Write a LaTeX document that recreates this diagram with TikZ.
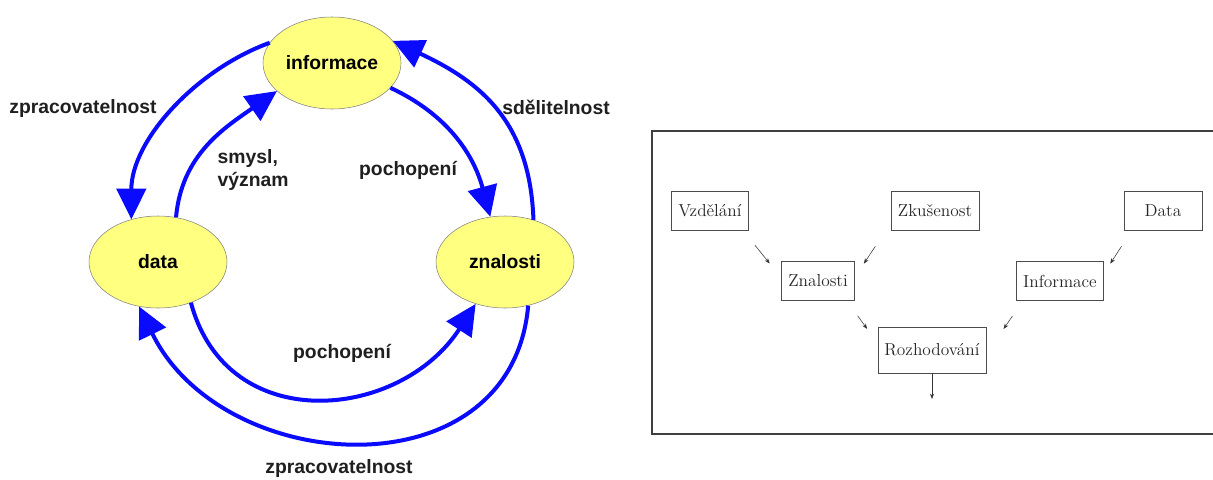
\documentclass[tikz,border=0pt]{standalone}
\usepackage{fontspec}
\usepackage{xcolor}
\usepackage{tikz}
\usetikzlibrary{arrows.meta,shapes.geometric}
\newfontfamily\arialbf{Liberation Sans}[BoldFont={* Bold}]
\definecolor{pale}{RGB}{255,255,128}
\definecolor{arcblue}{RGB}{10,10,255}

\begin{document}
\begin{tikzpicture}[x=0.75pt,y=0.75pt,
    bubble/.style={ellipse,draw=black!50,thin,fill=pale,inner sep=0pt,
      minimum width=103.5pt,minimum height=69pt,
      font=\arialbf\bfseries\fontsize{14.5}{17}\selectfont},
    lbl/.style={font=\arialbf\bfseries\fontsize{14.5}{17}\selectfont,text=black!88},
    flow/.style={draw=arcblue,line width=3pt,
      -{Triangle[length=23pt,width=22pt]}},
    box/.style={draw=black!70,thin,inner xsep=5pt,minimum height=29pt,
      font=\fontsize{13}{15}\selectfont,text=black!85},
    small/.style={-{Stealth[length=4pt,width=3pt]},black!80,thin}]
  \clip (0,0) rectangle (1213,-479);
  \fill[white] (0,0) rectangle (1213,-479);

  % left: cycle
  \node[bubble] (inf) at (332,-63) {informace};
  \node[bubble] (dat) at (158,-262) {data};
  \node[bubble] (zna) at (505,-262) {znalosti};

  \draw[flow] (inf.162) to[out=200,in=90,looseness=0.9] (dat.122);
  \draw[flow] (zna.56) to[out=92,in=-25,looseness=1.1] (inf.20);
  \draw[flow] (dat.68) to[out=85,in=215] (inf.207);
  \draw[flow] (inf.337) to[out=-25,in=105] (zna.108);
  \draw[flow] (dat.309) to[out=-75,in=237,looseness=1.25] (zna.235);
  \draw[flow] (zna.298) to[out=-95,in=296,looseness=1.25] (dat.247);

  \node[lbl] (zpr1) at (83,-108) {zpracovatelnost};
  \node[lbl] (sde) at (556,-107) {sdělitelnost};
  \node[lbl,align=left,anchor=west] (smy) at (213,-170) {smysl,\\význam};
  \node[lbl] (poc1) at (408,-170) {pochopení};
  \node[lbl] (poc2) at (342,-353) {pochopení};
  \node[lbl] (zpr2) at (339,-468) {zpracovatelnost};

  % right: decision scheme
  \draw[black!75,line width=1.2pt] (652,-131) rectangle (1230,-434);
  \node[box] (vzd) at (710,-211) {Vzdělání};
  \node[box] (zku) at (935,-211) {Zkušenost};
  \node[box,minimum width=58.5pt] (dta) at (1163,-211) {Data};
  \node[box] (zn) at (818,-281) {Znalosti};
  \node[box] (in) at (1060,-281) {Informace};
  \node[box,minimum height=34.5pt] (roz) at (932,-350) {Rozhodování};
  \coordinate (out) at (932,-399);

  \draw[small,shorten <=14pt,shorten >=-2pt] ([xshift=-4]vzd.south east) -- ([xshift=-10]zn.north west);
  \draw[small,shorten <=14pt,shorten >=-2pt] ([xshift=-4]zku.south west) -- ([xshift=8]zn.north east);
  \draw[small,shorten <=14pt,shorten >=-2pt] ([xshift=6]dta.south west) -- ([xshift=6]in.north east);
  \draw[small,shorten <=14pt,shorten >=-2pt] ([xshift=-6]zn.south east) -- ([xshift=-9]roz.north west);
  \draw[small,shorten <=14pt,shorten >=-2pt] ([xshift=5]in.south west) -- ([xshift=14]roz.north east);
  \draw[small] (roz.south) -- (out);
\end{tikzpicture}
\end{document}
